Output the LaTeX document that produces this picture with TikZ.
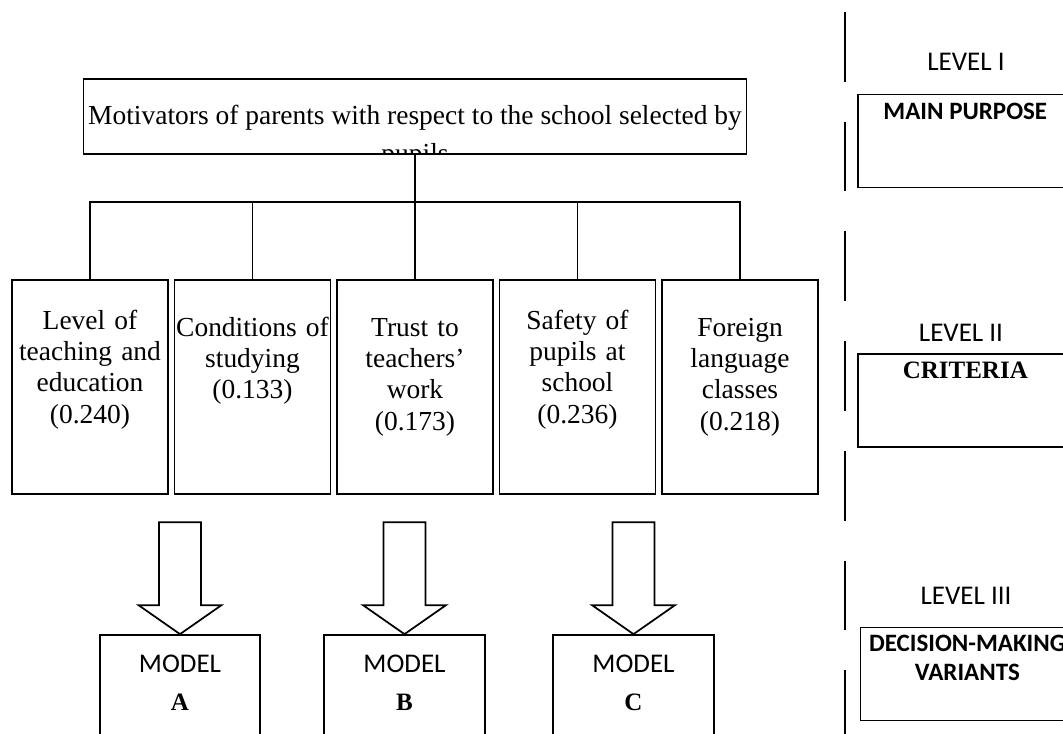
\documentclass[tikz,border=0pt]{standalone}
\usepackage{fontspec}
\setmainfont{Liberation Serif}
\newfontfamily\calibri{Carlito}

\tikzset{
    box/.style={draw, line width=1.3pt, inner sep=0pt},
    link/.style={line width=1.3pt},
    critbox/.style={box, minimum width=117pt, minimum height=160.5pt},
    crittext/.style={inner sep=0pt, text width=117pt, align=center, anchor=base,
        font=\fontsize{20.6}{23.5}\selectfont},
    modelbox/.style={box, minimum width=120.4pt, minimum height=82.5pt},
    modeltext/.style={inner sep=0pt, text width=120pt, align=center, anchor=base,
        font=\calibri\fontsize{20.25}{28.5}\selectfont},
    levelbox/.style={box, minimum width=160.5pt, minimum height=69.75pt},
    leveltext/.style={inner sep=0pt, anchor=base,
        font=\calibri\fontsize{20.25}{24}\selectfont},
    fatarrow/.style={draw, line width=1.3pt, line join=miter},
}

\begin{document}
\begin{tikzpicture}[x=0.75pt,y=-0.75pt]
    \clip (0,0) rectangle (1063,733);

    % level I
    \node [box, minimum width=497.25pt, minimum height=56.25pt] (goal) at (415,116.5) {};
    \begin{scope}
        \clip (goal.south west) rectangle (goal.north east);
        \node [anchor=base, inner sep=0pt, font=\fontsize{20.6}{23.5}\selectfont] (goaltop)
            at (415,124) {Motivators of parents with respect to the school selected by};
        \node [anchor=base, inner sep=0pt, font=\fontsize{20.6}{23.5}\selectfont] (goalend)
            at (415,162) {pupils};
    \end{scope}

    % level II
    \node [critbox] (crit1) at (90,387) {};
    \node [critbox] (crit2) at (252.5,387) {};
    \node [critbox] (crit3) at (415,387) {};
    \node [critbox] (crit4) at (577.5,387) {};
    \node [critbox] (crit5) at (740,387) {};

    \node [crittext] (crit1txt) at ([yshift=-37.5pt]crit1.north)%
        {Level of\\teaching and\\education\\(0.240)};
    \node [crittext] (crit2txt) at ([yshift=-42.75pt]crit2.north)%
        {Conditions of\\studying\\(0.133)};
    \node [crittext] (crit3txt) at ([yshift=-42.75pt]crit3.north)%
        {Trust to\\teachers’\\work\\(0.173)};
    \node [crittext] (crit4txt) at ([yshift=-37.5pt]crit4.north)%
        {Safety of\\pupils at\\school\\(0.236)};
    \node [crittext] (crit5txt) at ([yshift=-42.75pt]crit5.north)%
        {Foreign\\language\\classes\\(0.218)};

    \coordinate (bus) at (415,202);
    \draw [link] (goal.south) -- (crit3.north);
    \draw [link] (crit1.north) -- (crit1.north |- bus) -- (crit5.north |- bus) -- (crit5.north);
    \draw [link] (crit2.north) -- (crit2.north |- bus);
    \draw [link] (crit4.north) -- (crit4.north |- bus);

    % level III
    \node [modelbox] (modelA) at (180,690) {};
    \node [modelbox] (modelB) at (404.5,690) {};
    \node [modelbox] (modelC) at (633.5,690) {};

    \node [modeltext] (modelAtxt) at ([yshift=-28.5pt]modelA.north)%
        {MODEL\\{\rmfamily\bfseries\fontsize{18.75}{28.5}\selectfont A}};
    \node [modeltext] (modelBtxt) at ([yshift=-28.5pt]modelB.north)%
        {MODEL\\{\rmfamily\bfseries\fontsize{18.75}{28.5}\selectfont B}};
    \node [modeltext] (modelCtxt) at ([yshift=-28.5pt]modelC.north)%
        {MODEL\\{\rmfamily\bfseries\fontsize{18.75}{28.5}\selectfont C}};

    \draw [fatarrow] (modelA.north) -- ++(41.5,-29) -- ++(-20.5,0) -- ++(0,-83)
        -- ++(-42,0) -- ++(0,83) -- ++(-20.5,0) -- cycle;
    \draw [fatarrow] (modelB.north) -- ++(41.5,-29) -- ++(-20.5,0) -- ++(0,-83)
        -- ++(-42,0) -- ++(0,83) -- ++(-20.5,0) -- cycle;
    \draw [fatarrow] (modelC.north) -- ++(41.5,-29) -- ++(-20.5,0) -- ++(0,-83)
        -- ++(-42,0) -- ++(0,83) -- ++(-20.5,0) -- cycle;

    % levels column
    \coordinate (divtop) at (845,12);
    \coordinate (divbot) at (845,740);
    \draw [line width=1.2pt, dash pattern=on 52.2pt off 30.1pt] (divtop) -- (divbot);

    \node [leveltext] (level1) at (966,70) {LEVEL I};
    \node [leveltext] (level2) at (961,341) {LEVEL II};
    \node [leveltext] (level3) at (966,604) {LEVEL III};

    \node [levelbox] (purpose) at (965.3,141) {};
    \node [levelbox] (criteria) at (965.3,400.4) {};
    \node [levelbox] (variants) at (967.4,673.9) {};

    \node [anchor=base, inner sep=0pt, font=\calibri\bfseries\fontsize{18.75}{22}\selectfont]
        (purposetxt) at ([yshift=-19.5pt]purpose.north) {MAIN PURPOSE};
    \node [anchor=base, inner sep=0pt, font=\bfseries\fontsize{18.75}{22}\selectfont]
        (criteriatxt) at ([yshift=-18.75pt]criteria.north) {CRITERIA};
    \node [anchor=base, inner sep=0pt, text width=160pt, align=center,
        font=\calibri\bfseries\fontsize{18.75}{22}\selectfont]
        (variantstxt) at ([yshift=-18.5pt]variants.north) {DECISION-MAKING\\VARIANTS};
\end{tikzpicture}
\end{document}
